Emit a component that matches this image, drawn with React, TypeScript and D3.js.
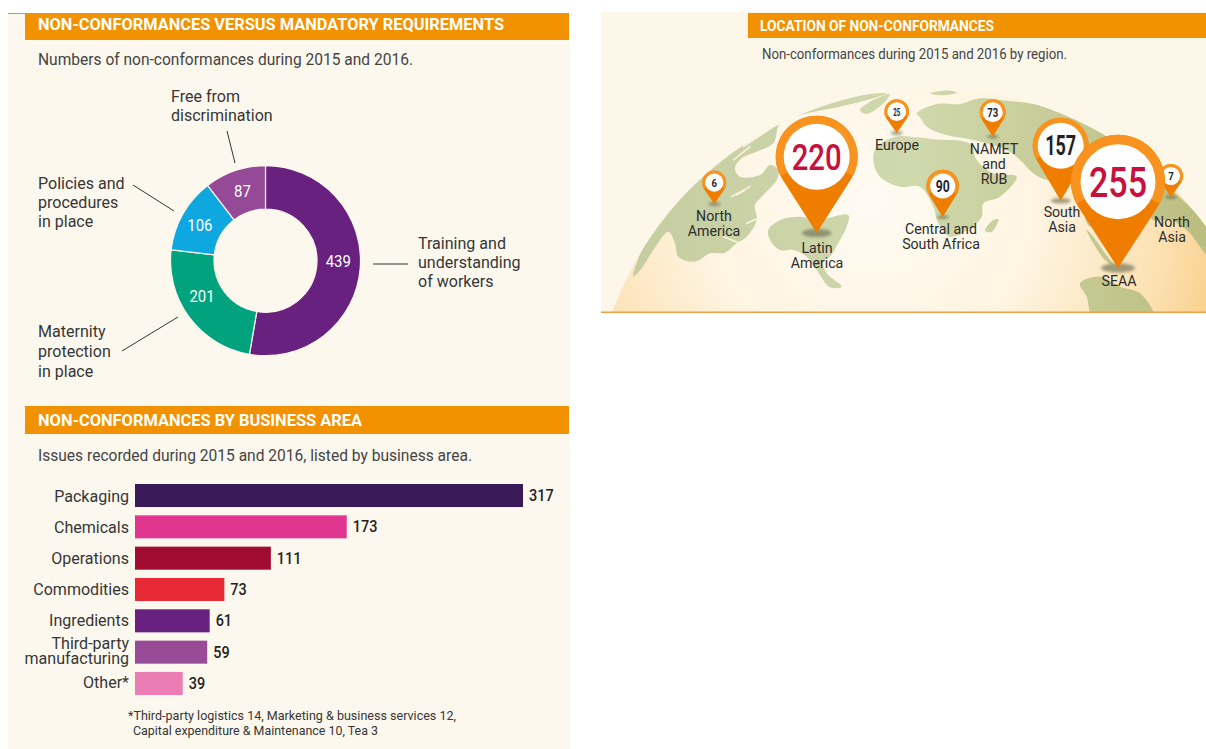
import React from "react";
import * as d3 from "d3";

// ---- donut data
const reqLabels = ["Training and understanding of workers", "Maternity protection in place", "Policies and procedures in place", "Free from discrimination"];
const reqValues = [439, 201, 106, 87];
const reqColors = ["#68217f", "#00a37d", "#0ea7e0", "#954a97"];
const reqLabelOffsets = [[-0.2, -5.5], [-4.9, -8.3], [-1.9, 1], [0.6, -0.3]];

// ---- bar data
const areaNames = ["Packaging", "Chemicals", "Operations", "Commodities", "Ingredients", "Third-party|manufacturing", "Other*"];
const areaValues = [317, 173, 111, 73, 61, 59, 39];
const areaColors = ["#3b1a5a", "#e0368f", "#a00c32", "#e72a35", "#68217f", "#984b97", "#ec7cb4"];

// ---- map data
const regionNames = ["North|America", "Latin|America", "Europe", "NAMET|and|RUB", "Central and|South Africa", "South|Asia", "SEAA", "North|Asia"];
const regionValues = [6, 220, 25, 73, 90, 157, 255, 7];
const pinCenters = [[714.3, 182.7], [816.7, 156.7], [896.7, 111.7], [992.7, 112.3], [942.7, 186], [1060.7, 145.7], [1118, 181.7], [1171, 176]];
const pinTips = [204, 233, 133, 136.7, 217, 200.7, 268, 197];
const labelX = [714, 817, 897, 994, 941, 1062, 1119, 1172];
const labelBaselines = [221, 253, 150, 154, 234, 217, 286, 227];
const drawOrder = [0, 2, 3, 4, 1, 7, 5, 6];

// ---- decorative land outlines, traced in 3x crop coordinates
const westOrigin = [600, 80];
const eastOrigin = [860, 80];
const westLand = [
  [[860,40],[760,48],[650,75],[560,105],[480,165],[400,215],[310,280],[250,335],[190,400],[150,465],[115,535],[100,590],[125,565],[160,510],[205,455],[225,490],[235,530],[285,545],[330,520],[375,518],[410,490],[440,470],[470,420],[465,375],[490,345],[530,300],[535,270],[510,255],[480,285],[420,290],[405,265],[425,235],[470,215],[520,190],[540,130],[600,105],[720,80],[820,55]],
  [[505,450],[540,420],[600,410],[650,420],[745,405],[740,440],[720,480],[690,530],[670,545],[680,580],[725,620],[690,622],[650,570],[620,530],[580,510],[540,510],[510,480]],
];
const eastLand = [
  [[40,240],[50,200],[110,170],[170,172],[220,178],[330,192],[350,240],[400,280],[470,290],[420,350],[370,370],[365,410],[330,445],[270,470],[235,430],[220,380],[180,320],[120,320],[60,290]],
  [[375,452],[400,420],[415,418],[395,456]],
  [[170,100],[230,72],[300,72],[360,55],[440,62],[520,72],[600,90],[700,140],[800,210],[900,300],[1000,390],[1050,440],[1050,530],[980,450],[930,420],[880,420],[860,380],[800,300],[740,400],[690,440],[640,300],[560,300],[520,280],[480,240],[440,210],[340,180],[260,165],[200,140],[180,112]],
  [[680,450],[700,470],[735,520],[760,555],[735,540],[700,490]],
  [[660,610],[720,590],[780,620],[840,640],[880,710],[700,710],[680,650]],
  [[0,90],[40,60],[90,42],[70,70],[20,102]],
  [[210,40],[270,32],[290,38],[240,46]],
];
// pale inlets and channels cut through the land
const westInlets = [
  [[400,240],[450,200]],
  [[430,200],[520,140]],
  [[520,130],[590,100]],
  [[395,350],[450,320]],
  [[410,345],[435,330]],
  [[370,470],[420,490]],
  [[440,430],[520,395]],
];

const FONT = "Roboto, 'Noto Sans', sans-serif";
const INK = "#363636";
const ORANGE = "#f39200";

const T = ({ x, y, lines, size = 17, anchor = "start", fill = INK, weight = 400, lh = 19, width, sx = 0.945 }: any) =>
  width ? (
    <text x={x} y={y} fontFamily={FONT} fontSize={size} fontWeight={weight} fill={fill} textAnchor={anchor} textLength={width} lengthAdjust="spacingAndGlyphs">
      {lines[0]}
    </text>
  ) : (
    <text transform={`translate(${x},${y}) scale(${sx},1)`} fontFamily={FONT} fontSize={size} fontWeight={weight} fill={fill} textAnchor={anchor}>
      {lines.map((l: string, i: number) => (
        <tspan key={i} x={0} y={i * lh}>{l}</tspan>
      ))}
    </text>
  );

const sizeDomain = [0, 73, 90, 157, 220, 255];
const pinR = d3.scaleLinear().domain(sizeDomain).range([12, 13, 16.3, 28, 41, 47]);
const pinInner = d3.scaleLinear().domain(sizeDomain).range([9, 10, 12.5, 23, 33, 37.5]);
const pinFont = d3.scaleLinear().domain(sizeDomain).range([11, 12.5, 16.5, 27, 37, 42]);
const pinTextW = d3.scaleLinear().domain(sizeDomain).range([5, 11, 14, 31, 50, 58]);

function pinPath(cx: number, cy: number, r: number, tip: number) {
  const d = tip - cy;
  const a = Math.acos(r / d);
  const px = r * Math.sin(a);
  const py = r * Math.cos(a);
  return `M${cx},${tip} L${cx - px},${cy + py} A${r},${r} 0 1 1 ${cx + px},${cy + py} Z`;
}

export default function App() {
  const pie = d3.pie<number>().sort(null).value((d) => d)(reqValues);
  const arc = d3.arc<any>().innerRadius(51.5).outerRadius(95);
  const cx = 265.5, cy = 260.7;

  const xBar = d3.scaleLinear().domain([0, 317]).range([135, 523]);
  const yBar = d3.scaleBand().domain(areaNames).range([484, 695]).paddingInner(0.265).paddingOuter(0);
  const yName = d3.scalePoint().domain(areaNames).range([502, 688]);
  const yVal = d3.scalePoint().domain(areaNames).range([501, 689]);

  const ring = d3.arc<any>();
  const smooth = d3.line().curve(d3.curveCatmullRomClosed.alpha(0.5));
  const toPx = (pts: number[][], o: number[]) => pts.map(([a, b]) => [o[0] + a / 3, o[1] + b / 3] as [number, number]);
  const shape = (pts: number[][], o: number[]) => smooth(toPx(pts, o)) as string;
  const open = d3.line();

  return (
    <svg width={1206} height={749} style={{ position: "absolute", left: 0, top: 0, background: "#fff" }}>
      <defs>
        <radialGradient id="globe" gradientUnits="userSpaceOnUse" cx={870} cy={200} r={375}>
          <stop offset="0" stopColor="#fffbf3" />
          <stop offset="0.45" stopColor="#fef4e1" />
          <stop offset="0.8" stopColor="#fce0b0" />
          <stop offset="1" stopColor="#f9cb80" />
        </radialGradient>
        <linearGradient id="landFill" gradientUnits="userSpaceOnUse" x1={620} x2={1206} y1={0} y2={0}>
          <stop offset="0" stopColor="#c4cca0" />
          <stop offset="0.5" stopColor="#d0d9ad" />
          <stop offset="1" stopColor="#bcbd80" />
        </linearGradient>
        <clipPath id="mapClip"><rect x={601} y={12} width={605} height={300} /></clipPath>
        <clipPath id="globeClip"><circle cx={932} cy={428} r={340} /></clipPath>
        <filter id="soft" x="-40%" y="-80%" width="180%" height="260%"><feGaussianBlur stdDeviation="1.6" /></filter>
        <filter id="landSoft" x="-5%" y="-5%" width="110%" height="110%"><feGaussianBlur stdDeviation="0.5" /></filter>
      </defs>

      {/* left panel */}
      <rect x={8} y={14} width={562} height={735} fill="#fdf8ee" />
      <rect x={8} y={13} width={17} height={1} fill={ORANGE} />
      <rect x={25} y={13} width={544} height={27} fill={ORANGE} />
      <T x={38} y={30} lines={["NON-CONFORMANCES VERSUS MANDATORY REQUIREMENTS"]} fill="#fff" weight={700} width={466} />
      <T x={38} y={65} lines={["Numbers of non-conformances during 2015 and 2016."]} width={375} fill="#444" />

      {/* donut */}
      <g transform={`translate(${cx},${cy})`}>
        {pie.map((d, i) => (
          <path key={reqLabels[i]} d={arc(d) as string} fill={reqColors[i]} stroke="#fdf8ee" strokeWidth={1.2} />
        ))}
        {pie.map((d, i) => {
          const [lx, ly] = arc.centroid(d);
          const w = String(reqValues[i]).length * 8.4;
          return (
            <text key={i} x={lx + reqLabelOffsets[i][0]} y={ly + reqLabelOffsets[i][1] + 5.7} textAnchor="middle" fontFamily={FONT} fontSize={16} fill="#fff" textLength={w} lengthAdjust="spacingAndGlyphs">
              {reqValues[i]}
            </text>
          );
        })}
      </g>
      <T x={171} y={102} lines={["Free from", "discrimination"]} />
      <T x={38} y={189} lines={["Policies and", "procedures", "in place"]} />
      <T x={418} y={249} lines={["Training and", "understanding", "of workers"]} />
      <T x={38} y={337} lines={["Maternity", "protection", "in place"]} lh={20} />
      <g stroke="#333" strokeWidth={1}>
        <line x1={227} y1={131} x2={235} y2={163} />
        <line x1={133} y1={185} x2={174} y2={211} />
        <line x1={122} y1={351} x2={178} y2={317} />
        <line x1={373} y1={264} x2={408} y2={264} />
      </g>

      {/* bar section */}
      <rect x={25} y={406} width={544} height={28} fill={ORANGE} />
      <T x={38} y={426} lines={["NON-CONFORMANCES BY BUSINESS AREA"]} fill="#fff" weight={700} width={324} />
      <T x={38} y={461} lines={["Issues recorded during 2015 and 2016, listed by business area."]} width={434} fill="#444" />
      {areaNames.map((n, i) => {
        const lines = n.split("|");
        const v = areaValues[i];
        return (
          <g key={n}>
            <rect x={xBar(0)} y={yBar(n) as number} width={xBar(v) - xBar(0)} height={yBar.bandwidth()} fill={areaColors[i]} />
            <T x={129} y={(yName(n) as number) - (lines.length - 1) * 8} lines={lines} anchor="end" lh={15.5} />
            <T x={xBar(v) + 6} y={yVal(n) as number} lines={[String(v)]} weight={500} fill="#222" width={String(v).length * 8.2} />
          </g>
        );
      })}
      <T x={128} y={720} lines={["*Third-party logistics 14, Marketing & business services 12,"]} size={13} width={328} />
      <T x={133} y={735} lines={["Capital expenditure & Maintenance 10, Tea 3"]} size={13} width={245} />

      {/* map panel */}
      <g clipPath="url(#mapClip)">
        <rect x={601} y={12} width={605} height={300} fill="#fdf7ea" />
        <circle cx={932} cy={428} r={340} fill="url(#globe)" />
        <g clipPath="url(#globeClip)">
          <g filter="url(#landSoft)">
            {westLand.map((p, i) => <path key={`w${i}`} d={shape(p, westOrigin)} fill="url(#landFill)" />)}
            {eastLand.map((p, i) => <path key={`e${i}`} d={shape(p, eastOrigin)} fill="url(#landFill)" />)}
            {westInlets.map((p, i) => (
              <path key={`i${i}`} d={open(toPx(p, westOrigin)) as string} fill="none" stroke="#fdf3df" strokeWidth={1.6} strokeLinecap="round" />
            ))}
          </g>
        </g>
      </g>
      <rect x={601} y={311.5} width={605} height={1.5} fill="#f0a040" />
      <rect x={748} y={13} width={458} height={25} fill={ORANGE} />
      <T x={760} y={31} lines={["LOCATION OF NON-CONFORMANCES"]} size={14.5} fill="#fff" weight={700} width={234} />
      <T x={762} y={59} lines={["Non-conformances during 2015 and 2016 by region."]} size={15} width={305} fill="#444" />

      {drawOrder.map((i) => {
        const v = regionValues[i];
        const [px, py] = pinCenters[i];
        const tip = pinTips[i];
        const r = pinR(v), inner = pinInner(v), fs = pinFont(v);
        const red = v >= 200;
        return (
          <g key={i}>
            <ellipse cx={px} cy={tip} rx={Math.max(6, r * 0.36)} ry={Math.max(2, r * 0.1)} fill="#6e6f50" opacity={0.65} filter="url(#soft)" />
            <path d={pinPath(px, py, r, tip)} fill="#ef7d00" />
            <path
              transform={`translate(${px},${py})`}
              d={ring({ innerRadius: inner - 1, outerRadius: r, startAngle: (-118 * Math.PI) / 180, endAngle: (118 * Math.PI) / 180 }) as string}
              fill="#f7931e"
            />
            <circle cx={px} cy={py} r={inner} fill="#fff" />
            <text
              x={px}
              y={py + fs * 0.355}
              textAnchor="middle"
              fontFamily={FONT}
              fontSize={fs}
              fontWeight={red ? 500 : 700}
              fill={red ? "#c8103e" : "#1f1f2a"}
              textLength={pinTextW(v)}
              lengthAdjust="spacingAndGlyphs"
            >
              {v}
            </text>
          </g>
        );
      })}
      {regionNames.map((n, i) => (
        <T key={n} x={labelX[i]} y={labelBaselines[i]} lines={n.split("|")} size={15} anchor="middle" lh={15} fill="#2d2d2d" />
      ))}
    </svg>
  );
}
